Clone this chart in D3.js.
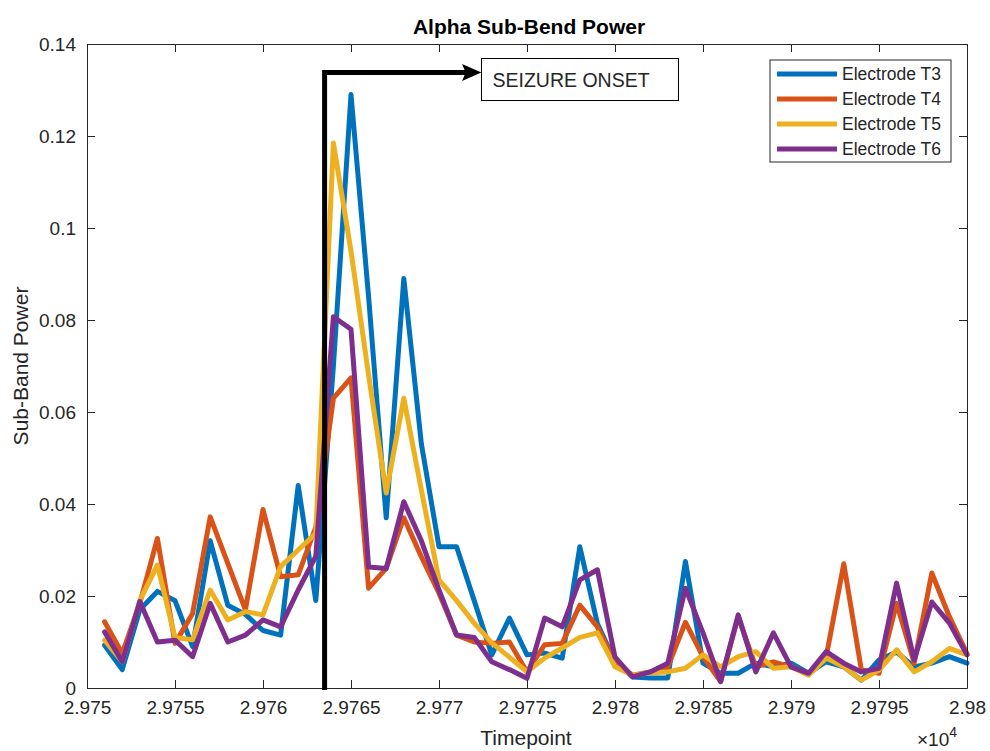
<!DOCTYPE html>
<html>
<head>
<meta charset="utf-8">
<script src="https://cdn.jsdelivr.net/npm/d3@7"></script>
<style>
  html, body { margin: 0; padding: 0; background: #fff; }
  svg { display: block; font-family: "Liberation Sans", Arial, Helvetica, sans-serif; }
</style>
</head>
<body>
<svg id="chart" width="990" height="751"></svg>
<script>
// ---------------- DATA ----------------
const timepoints = d3.range(29751, 29801);

const electrodeT3 = [0.0093,0.004,0.017,0.021,0.019,0.009,0.032,0.018,0.016,0.0125,
  0.0115,0.044,0.019,0.07,0.129,0.085,0.037,0.089,0.053,0.0307,
  0.0307,0.019,0.0072,0.0152,0.0072,0.0076,0.0065,0.0307,0.014,0.0057,
  0.0024,0.0022,0.0022,0.0275,0.0054,0.0032,0.0032,0.0054,0.0046,0.0054,
  0.0032,0.0057,0.0046,0.0017,0.0061,0.0078,0.0046,0.0054,0.0068,0.0054];

const electrodeT4 = [0.0144,0.0075,0.0184,0.0325,0.0097,0.0162,0.0372,0.0271,0.017,0.0388,
  0.0242,0.0246,0.035,0.063,0.0674,0.0217,0.026,0.037,0.0285,0.0206,
  0.0115,0.01,0.0097,0.01,0.0035,0.0094,0.0097,0.018,0.0133,0.0054,
  0.0028,0.0035,0.0046,0.0143,0.0068,0.0014,0.0155,0.0046,0.0057,0.0046,
  0.0032,0.0068,0.027,0.0039,0.0032,0.0184,0.0054,0.025,0.0155,0.0075];

const electrodeT5 = [0.0104,0.0057,0.019,0.0267,0.011,0.0105,0.0213,0.0148,0.0166,0.0159,
  0.0264,0.030,0.0336,0.1185,0.095,0.068,0.0424,0.063,0.043,0.0235,
  0.019,0.0141,0.0098,0.0067,0.0035,0.0065,0.0087,0.011,0.012,0.0046,
  0.0028,0.0033,0.0035,0.0043,0.0072,0.0046,0.0068,0.0079,0.0043,0.0046,
  0.0028,0.0065,0.0046,0.0017,0.0039,0.0083,0.0035,0.0057,0.0086,0.0072];

const electrodeT6 = [0.0122,0.0057,0.0188,0.010,0.0104,0.0068,0.0184,0.010,0.0115,0.0148,
  0.0133,0.0213,0.0286,0.0807,0.078,0.0263,0.026,0.0405,0.032,0.0213,
  0.0115,0.011,0.0057,0.004,0.0021,0.0152,0.0133,0.0235,0.0257,0.0067,
  0.0024,0.0035,0.0054,0.0217,0.012,0.0014,0.0159,0.0035,0.012,0.0046,
  0.0032,0.0079,0.0054,0.0035,0.0043,0.0228,0.0061,0.0187,0.0141,0.0072];

const seriesNames = ["Electrode T3", "Electrode T4", "Electrode T5", "Electrode T6"];
const seriesColors = ["#0072BD", "#D95319", "#EDB120", "#7E2F8E"];

const xTicks = [29750,29755,29760,29765,29770,29775,29780,29785,29790,29795,29800];
const xTickLabels = ["2.975","2.9755","2.976","2.9765","2.977","2.9775","2.978","2.9785","2.979","2.9795","2.98"];
const yTicks = [0,0.02,0.04,0.06,0.08,0.1,0.12,0.14];
const yTickLabels = ["0","0.02","0.04","0.06","0.08","0.1","0.12","0.14"];

const onsetX = 29763.5;
const onsetTop = 0.1338;
const onsetArrowEnd = 29772.3;
const onsetLabel = "SEIZURE ONSET";

const titleText = "Alpha Sub-Bend Power";
const xLabelText = "Timepoint";
const yLabelText = "Sub-Band Power";

// ---------------- LAYOUT ----------------
const W = 990, H = 751;
const margin = {left: 87, right: 23, top: 44, bottom: 63};
const iw = W - margin.left - margin.right;
const ih = H - margin.top - margin.bottom;
const axisColor = "#262626";

const svg = d3.select("#chart");
const g = svg.append("g").attr("transform", `translate(${margin.left},${margin.top})`);

const x = d3.scaleLinear().domain([29750, 29800]).range([0, iw]);
const y = d3.scaleLinear().domain([0, 0.14]).range([ih, 0]);

g.append("rect").attr("width", iw).attr("height", ih).attr("fill", "#fff");

// ---------------- SERIES ----------------
const seriesData = [electrodeT3, electrodeT4, electrodeT5, electrodeT6];
const line = d3.line().x((d, i) => x(timepoints[i])).y(d => y(d));

svg.append("defs").append("clipPath").attr("id", "clip")
  .append("rect").attr("x", -3).attr("y", -3).attr("width", iw + 6).attr("height", ih + 6);

const linesG = g.append("g").attr("clip-path", "url(#clip)");
seriesData.forEach((vals, k) => {
  linesG.append("path")
    .datum(vals)
    .attr("d", line)
    .attr("fill", "none")
    .attr("stroke", seriesColors[k])
    .attr("stroke-width", 5)
    .attr("stroke-linejoin", "round")
    .attr("stroke-linecap", "round");
});

// ---------------- AXES ----------------
const tickLen = 8;
const fmtX = (d, i) => xTickLabels[i];
const fmtY = (d, i) => yTickLabels[i];

const xAxisB = d3.axisBottom(x).tickValues(xTicks).tickFormat(fmtX).tickSizeInner(-tickLen).tickSizeOuter(0).tickPadding(13);
const xAxisT = d3.axisTop(x).tickValues(xTicks).tickFormat("").tickSizeInner(-tickLen).tickSizeOuter(0);
const yAxisL = d3.axisLeft(y).tickValues(yTicks).tickFormat(fmtY).tickSizeInner(-tickLen).tickSizeOuter(0).tickPadding(11);
const yAxisR = d3.axisRight(y).tickValues(yTicks).tickFormat("").tickSizeInner(-tickLen).tickSizeOuter(0);

function styleAxis(sel) {
  sel.select(".domain").attr("stroke", axisColor).attr("stroke-width", 1);
  sel.selectAll(".tick line").attr("stroke", axisColor).attr("stroke-width", 1);
  sel.selectAll(".tick text").attr("fill", axisColor).style("font-size", "19px")
    .style("font-family", "'Liberation Sans', Arial, sans-serif");
}

g.append("g").attr("transform", `translate(0,${ih})`).call(xAxisB).call(styleAxis);
g.append("g").call(xAxisT).call(styleAxis);
g.append("g").call(yAxisL).call(styleAxis);
g.append("g").attr("transform", `translate(${iw},0)`).call(yAxisR).call(styleAxis);

// ---------------- ANNOTATION ----------------
const annG = g.append("g");
annG.append("path")
  .attr("d", `M${x(onsetX)},${ih + 2} L${x(onsetX)},${y(onsetTop)} L${x(onsetArrowEnd) - 12},${y(onsetTop)}`)
  .attr("fill", "none").attr("stroke", "#000").attr("stroke-width", 5);
const ax = x(onsetArrowEnd), ay = y(onsetTop);
annG.append("path")
  .attr("d", `M${ax},${ay} L${ax - 16},${ay - 7} L${ax - 13},${ay} L${ax - 16},${ay + 7} Z`)
  .attr("fill", "#000").attr("stroke", "#000").attr("stroke-width", 1.5).attr("stroke-linejoin", "miter");

const boxX = ax + 2, boxY = ay - 14, boxW = 197, boxH = 42;
annG.append("rect").attr("x", boxX).attr("y", boxY).attr("width", boxW).attr("height", boxH)
  .attr("fill", "#fff").attr("stroke", "#000").attr("stroke-width", 1);
annG.append("text").attr("x", boxX + 11).attr("y", boxY + 28)
  .attr("fill", "#262626").style("font-size", "19.5px").text(onsetLabel);

// ---------------- LEGEND ----------------
const legX = 770 - margin.left, legY = 60 - margin.top, legW = 181, legH = 102;
const legG = g.append("g");
legG.append("rect").attr("x", legX).attr("y", legY).attr("width", legW).attr("height", legH)
  .attr("fill", "#fff").attr("stroke", "#262626").attr("stroke-width", 1);
seriesNames.forEach((nm, k) => {
  const ry = legY + 14 + k * 25;
  legG.append("line").attr("x1", legX + 7).attr("x2", legX + 67).attr("y1", ry).attr("y2", ry)
    .attr("stroke", seriesColors[k]).attr("stroke-width", 5);
  legG.append("text").attr("x", legX + 72).attr("y", ry + 6).attr("fill", "#262626")
    .style("font-size", "17.5px").text(nm);
});

// ---------------- TITLES ----------------
svg.append("text").attr("x", margin.left + iw / 2 + 2).attr("y", 34).attr("text-anchor", "middle")
  .attr("fill", "#000").style("font-size", "21px").style("font-weight", "bold").text(titleText);

svg.append("text").attr("x", 526).attr("y", 745).attr("text-anchor", "middle")
  .attr("fill", "#262626").style("font-size", "21px").text(xLabelText);

svg.append("text").attr("transform", `translate(28,${margin.top + ih / 2}) rotate(-90)`)
  .attr("text-anchor", "middle").attr("fill", "#262626").style("font-size", "21px").text(yLabelText);

// x10^4 exponent
const expT = svg.append("text").attr("x", 917).attr("y", 746).attr("fill", "#262626").style("font-size", "19px");
expT.append("tspan").text("\u00D710");
expT.append("tspan").attr("dy", -9).style("font-size", "14px").text("4");
</script>
</body>
</html>
